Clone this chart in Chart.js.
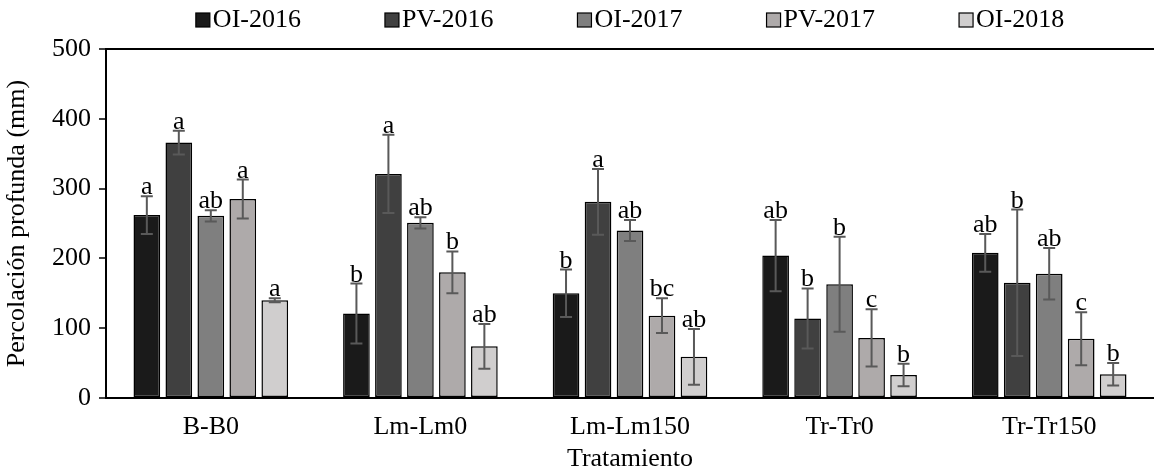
<!DOCTYPE html>
<html>
<head>
<meta charset="utf-8">
<script src="https://cdn.jsdelivr.net/npm/chart.js@4"></script>
<style>
  html, body { margin: 0; padding: 0; background: #fff; }
  #wrap { width: 1154px; height: 475px; }
</style>
</head>
<body>
<div id="wrap"><canvas id="chart" width="1154" height="475"></canvas></div>
<script>
// Percolación profunda por tratamiento y campaña
const categories = ['B-B0', 'Lm-Lm0', 'Lm-Lm150', 'Tr-Tr0', 'Tr-Tr150'];
const seriesNames = ['OI-2016', 'PV-2016', 'OI-2017', 'PV-2017', 'OI-2018'];

const oi2016 = [262, 121, 150, 204, 208];
const pv2016 = [366, 321, 281, 114, 165];
const oi2017 = [261, 251, 240, 163, 178];
const pv2017 = [285, 180, 118, 86, 85];
const oi2018 = [140, 74, 59, 33, 34];

// error (+/-)
const oi2016Err = [27, 43, 34, 51, 27];
const pv2016Err = [17, 56, 47, 43, 105];
const oi2017Err = [8, 8, 15, 68, 37];
const pv2017Err = [28, 30, 25, 41, 38];
const oi2018Err = [3, 32, 40, 16, 16];

// letters from the mean comparison
const oi2016Letters = ['a', 'b', 'b', 'ab', 'ab'];
const pv2016Letters = ['a', 'a', 'a', 'b', 'b'];
const oi2017Letters = ['ab', 'ab', 'ab', 'b', 'ab'];
const pv2017Letters = ['a', 'b', 'bc', 'c', 'c'];
const oi2018Letters = ['a', 'ab', 'ab', 'b', 'b'];

const yTicks = [0, 100, 200, 300, 400, 500];

const colors = ['#1a1a1a', '#404040', '#7f7f7f', '#aeaaaa', '#d0cece'];
const FONT_FAMILY = "'Liberation Serif', 'Times New Roman', serif";
const FONT = '26px ' + FONT_FAMILY;

const values = [oi2016, pv2016, oi2017, pv2017, oi2018];
const errors = [oi2016Err, pv2016Err, oi2017Err, pv2017Err, oi2018Err];
const letters = [oi2016Letters, pv2016Letters, oi2017Letters, pv2017Letters, oi2018Letters];

const datasets = seriesNames.map((name, i) => ({
    label: name,
    data: values[i],
    errors: errors[i],
    letters: letters[i],
    backgroundColor: colors[i],
    borderColor: '#000',
    borderWidth: 1.5,
    borderSkipped: false,
    categoryPercentage: 0.763,
    barPercentage: 0.834
}));

// error bars + letters, placed through the y scale
const errorBars = {
    id: 'errorBars',
    afterDatasetsDraw(chart) {
        const ctx = chart.ctx;
        const y = chart.scales.y;
        ctx.save();
        chart.data.datasets.forEach((ds, i) => {
            const meta = chart.getDatasetMeta(i);
            meta.data.forEach((bar, j) => {
                const v = ds.data[j];
                const e = ds.errors[j];
                const top = y.getPixelForValue(v + e);
                const bottom = y.getPixelForValue(v - e);
                const x = bar.x;
                ctx.strokeStyle = '#595959';
                ctx.lineWidth = 2;
                ctx.beginPath();
                ctx.moveTo(x, top);
                ctx.lineTo(x, bottom);
                ctx.moveTo(x - 6, top);
                ctx.lineTo(x + 6, top);
                ctx.moveTo(x - 6, bottom);
                ctx.lineTo(x + 6, bottom);
                ctx.stroke();

                ctx.fillStyle = '#000';
                ctx.font = FONT;
                ctx.textAlign = 'center';
                ctx.textBaseline = 'alphabetic';
                ctx.fillText(ds.letters[j], x, top - 2);
            });
        });
        ctx.restore();
    }
};

// legend row on top (box close to the text)
const legendRow = {
    id: 'legendRow',
    afterDraw(chart) {
        const { ctx, chartArea } = chart;
        const box = 14, gap = 3, space = 84;
        ctx.save();
        ctx.font = FONT;
        const widths = chart.data.datasets.map(ds => box + gap + ctx.measureText(ds.label).width);
        const total = widths.reduce((a, b) => a + b, 0) + space * (widths.length - 1);
        let x = (chartArea.left + chartArea.right) / 2 - total / 2;
        chart.data.datasets.forEach((ds, i) => {
            ctx.fillStyle = ds.backgroundColor;
            ctx.fillRect(x, 13, box, box);
            ctx.strokeStyle = '#000';
            ctx.lineWidth = 1.2;
            ctx.strokeRect(x, 13, box, box);
            ctx.fillStyle = '#000';
            ctx.textAlign = 'left';
            ctx.textBaseline = 'alphabetic';
            ctx.fillText(ds.label, x + box + gap, 27);
            x += widths[i] + space;
        });
        ctx.restore();
    }
};

new Chart(document.getElementById('chart'), {
    type: 'bar',
    data: { labels: categories, datasets: datasets },
    options: {
        responsive: false,
        animation: false,
        layout: { padding: { top: 49, right: 0, bottom: 0, left: 0 } },
        plugins: {
            legend: { display: false },
            tooltip: { enabled: false }
        },
        scales: {
            x: {
                grid: { display: false, drawTicks: false },
                border: { display: true, color: '#000', width: 2 },
                ticks: {
                    color: '#000',
                    font: { family: FONT_FAMILY, size: 26 },
                    padding: 14,
                    maxRotation: 0
                },
                title: {
                    display: true,
                    text: 'Tratamiento',
                    color: '#000',
                    font: { family: FONT_FAMILY, size: 26 },
                    padding: { top: 0, bottom: 0 }
                },
                afterFit(scale) { scale.height = 77; }
            },
            y: {
                min: yTicks[0],
                max: yTicks[yTicks.length - 1],
                afterBuildTicks(scale) { scale.ticks = yTicks.map(v => ({ value: v })); },
                ticks: {
                    color: '#000',
                    font: { family: FONT_FAMILY, size: 26 },
                    padding: 8
                },
                grid: {
                    drawOnChartArea: true,
                    color: ctx => (ctx.tick && ctx.tick.value === 500 ? '#000' : 'rgba(0,0,0,0)'),
                    lineWidth: 2,
                    tickColor: '#000',
                    tickWidth: 1.5,
                    tickLength: 7
                },
                border: { display: true, color: '#000', width: 2 },
                title: {
                    display: true,
                    text: 'Percolación profunda (mm)',
                    color: '#000',
                    font: { family: FONT_FAMILY, size: 26 },
                    padding: { top: 2, bottom: 0 }
                },
                afterFit(scale) { scale.width = 106; }
            }
        }
    },
    plugins: [errorBars, legendRow]
});
</script>
</body>
</html>
